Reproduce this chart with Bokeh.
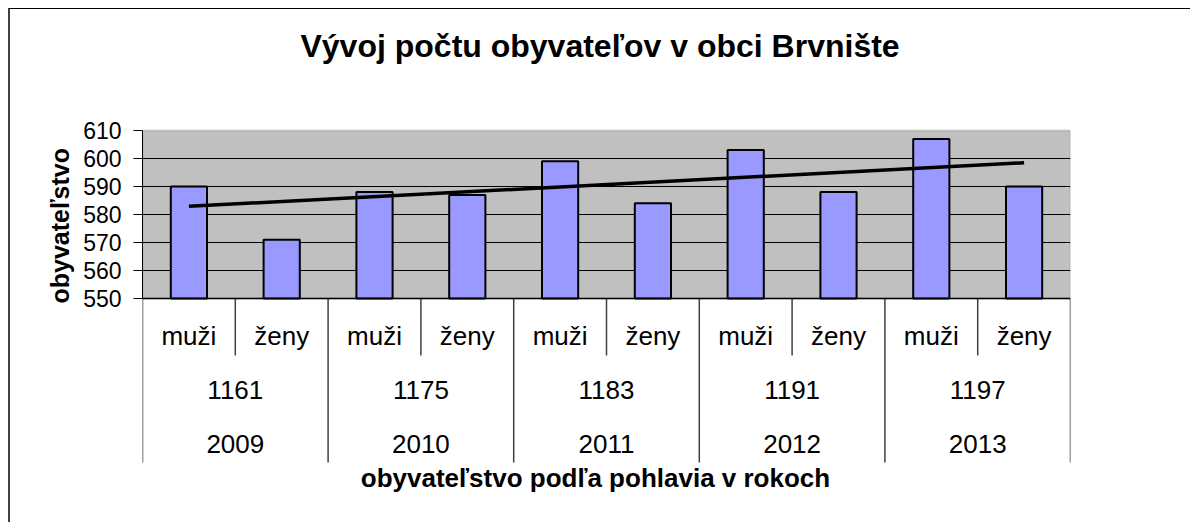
import numpy as np
from bokeh.plotting import figure
from bokeh.models import FactorRange, FixedTicker, BoxAnnotation, Span, ColumnDataSource, Title
from bokeh.core.properties import value
from bokeh.embed import file_html
from bokeh.resources import INLINE

# ---- data ----
years = ["2009", "2010", "2011", "2012", "2013"]
totals = ["1161", "1175", "1183", "1191", "1197"]
sexes = ["muži", "ženy"]
muzi = [590, 588, 599, 603, 607]
zeny = [571, 587, 584, 588, 590]
y_ticks = [550, 560, 570, 580, 590, 600, 610]

title_text = "Vývoj počtu obyvateľov  v obci Brvnište"
x_title = "obyvateľstvo podľa pohlavia v rokoch"
y_title = "obyvateľstvo"

# ---- derived ----
factors = []
vals = []
for yr, tot, m, z in zip(years, totals, muzi, zeny):
    factors.append((yr, tot, sexes[0])); vals.append(m)
    factors.append((yr, tot, sexes[1])); vals.append(z)

idx = np.arange(len(vals))
slope, icpt = np.polyfit(idx, vals, 1)
trend_y = [icpt + slope * idx[0], icpt + slope * idx[-1]]

FONTNAME = "Liberation Sans"
FONT = value(FONTNAME)
W, H = 1182, 514
TOP_PX = 121        # canvas top -> 610 line
FRAME_BOTTOM = 500  # canvas px
ymin, ymax = y_ticks[0], y_ticks[-1]
PX = 168 / (ymax - ymin)  # pixels per unit in plot area
y_end = ymax + TOP_PX / PX
y_start = y_end - FRAME_BOTTOM / PX

def below(px):
    return ymin - px / PX

def above(px):
    return ymax + px / PX

xr = FactorRange(*factors, range_padding=0, group_padding=0, subgroup_padding=0, factor_padding=0)

p = figure(width=W, height=H, x_range=xr, y_range=(y_start, y_end),
           output_backend="svg", toolbar_location=None, x_axis_location=None,
           min_border_left=132, min_border_right=122, min_border_top=0,
           min_border_bottom=H - FRAME_BOTTOM)
p.title = None
p.styles = {"margin-left": "8px", "margin-top": "8px",
            "border-left": "2px solid #404040", "border-top": "1px solid #000000"}
p.outline_line_color = None
p.background_fill_color = "white"
p.border_fill_color = "white"

# plot area background
box = BoxAnnotation(bottom=ymin, top=ymax, fill_color="#C0C0C0", fill_alpha=1,
                    line_color="#808080", line_width=2, level="underlay")
p.center = [box] + list(p.center)

# grid
p.xgrid.grid_line_color = None
p.ygrid.ticker = FixedTicker(ticks=y_ticks[1:-1])
p.ygrid.grid_line_color = "black"
p.ygrid.grid_line_width = 1

# y axis
ax = p.yaxis[0]
ax.ticker = FixedTicker(ticks=y_ticks)
ax.bounds = (ymin, ymax)
ax.major_tick_out = 9
ax.major_tick_in = 0
ax.minor_tick_line_color = None
ax.axis_line_color = "black"
ax.major_tick_line_color = "black"
ax.major_label_text_font = FONTNAME
ax.major_label_text_font_size = "23px"
ax.major_label_text_color = "black"
ax.major_label_standoff = 12

# y axis title
p.add_layout(Title(text=y_title, align="left", offset=206, standoff=13,
                   text_font=FONTNAME, text_font_size="25px", text_font_style="bold",
                   text_color="black"), "left")

# chart title
p.text(x=[len(factors) / 2], y=[above(85)], text=[title_text], x_offset=-2,
       text_align="center", text_baseline="alphabetic", text_font=FONT,
       text_font_size="32px", text_font_style="bold", text_color="black")

# bars
src = ColumnDataSource(dict(x=factors, top=vals))
p.vbar(x="x", top="top", bottom=ymin, width=0.39, source=src,
       fill_color="#9999FF", line_color="black", line_width=2)

# trend line
p.line(x=[factors[0], factors[-1]], y=trend_y, line_color="black", line_width=3.5)

# category axis line
p.add_layout(Span(location=ymin, dimension="width", line_color="black", line_width=1.5))

# separators
n = len(factors)
bounds_all = np.arange(0, n + 1)
inner = [int(b) for b in bounds_all if b % 2 == 1]
outer = [int(b) for b in bounds_all if b % 2 == 0]
p.segment(x0=inner, y0=[ymin] * len(inner), x1=inner, y1=[below(57)] * len(inner),
          line_color="#404040", line_width=1.5)
p.segment(x0=outer, y0=[ymin] * len(outer), x1=outer, y1=[below(164)] * len(outer),
          line_color="#404040", line_width=1.5)

# category labels
lab_kw = dict(text_align="center", text_baseline="alphabetic", text_font=FONT,
              text_font_size="26px", text_color="black")
p.text(x=factors, y=[below(37)] * n, text=[f[2] for f in factors], **lab_kw)
mids = [(yr, tot) for yr, tot in zip(years, totals)]
p.text(x=mids, y=[below(91)] * len(mids), text=totals, **lab_kw)
p.text(x=years, y=[below(145)] * len(years), text=years, **lab_kw)

# x axis title
p.text(x=[n / 2], y=[below(179)], text=[x_title], x_offset=-11,
       text_align="center", text_baseline="alphabetic", text_font=FONT,
       text_font_size="26px", text_font_style="bold", text_color="black")

open("out.html", "w").write(file_html(p, INLINE))
